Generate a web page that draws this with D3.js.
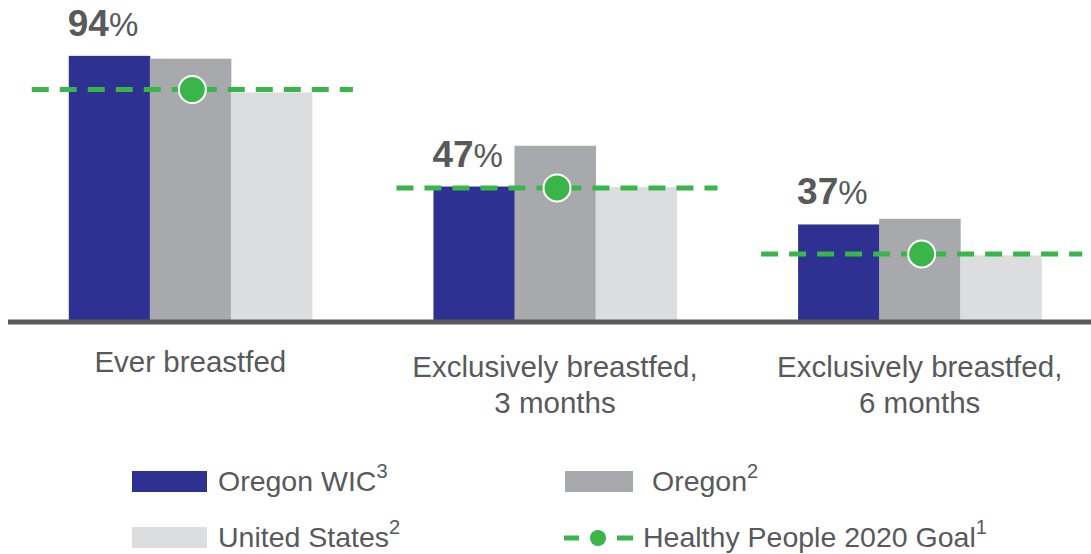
<!DOCTYPE html>
<html>
<head>
<meta charset="utf-8">
<script src="https://cdn.jsdelivr.net/npm/d3@7"></script>
<style>
  body { margin: 0; background: #fff; }
  svg { display: block; font-family: "Liberation Sans", Arial, sans-serif; }
</style>
</head>
<body>
<svg id="chart" width="1091" height="554"></svg>
<script>
// data
var categories = [["Ever breastfed"], ["Exclusively breastfed,", "3 months"], ["Exclusively breastfed,", "6 months"]];
var seriesNames = ["Oregon WIC", "Oregon", "United States"];
var oregonWic = [94, 47.5, 34];
var oregon = [93, 62, 36];
var unitedStates = [81, 47.3, 23];
var hpGoal = [82, 47, 23.5];
var wicLabels = ["94", "47", "37"];

var colors = ["#2e3192", "#a8a9ac", "#dcdddf"];
var green = "#39b54a";
var textColor = "#58595b";

var svg = d3.select('#chart');

var x = d3.scaleBand()
    .domain(d3.range(categories.length))
    .range([8, 1102])
    .paddingInner(1 / 3)
    .paddingOuter(1 / 6);

var xs = d3.scaleBand()
    .domain(d3.range(seriesNames.length))
    .range([0, x.bandwidth()]);

var y = d3.scaleLinear().domain([0, 100]).range([320, 39]);

var rows = categories.map(function(c, i) {
    return { i: i, vals: [oregonWic[i], oregon[i], unitedStates[i]] };
});

var groups = svg.selectAll('g.grp')
    .data(rows)
    .enter()
    .append('g')
    .attr('class', 'grp')
    .attr('transform', function(d) { return 'translate(' + x(d.i) + ',0)'; });

groups.selectAll('rect')
    .data(function(d) { return d.vals; })
    .enter()
    .append('rect')
    .attr('x', function(d, j) { return xs(j); })
    .attr('y', function(d) { return y(d); })
    .attr('width', xs.bandwidth() + 0.5)
    .attr('height', function(d) { return y(0) - y(d); })
    .attr('fill', function(d, j) { return colors[j]; });

// baseline
svg.append('line')
    .attr('x1', 8).attr('x2', 1091)
    .attr('y1', 322).attr('y2', 322)
    .attr('stroke', '#5a5a5c')
    .attr('stroke-width', 5);

// healthy people goal lines
groups.append('line')
    .attr('x1', -37)
    .attr('x2', x.bandwidth() + 41)
    .attr('y1', function(d) { return y(hpGoal[d.i]); })
    .attr('y2', function(d) { return y(hpGoal[d.i]); })
    .attr('stroke', green)
    .attr('stroke-width', 5)
    .attr('stroke-dasharray', '17 11');

groups.append('circle')
    .attr('cx', x.bandwidth() / 2 + 2)
    .attr('cy', function(d) { return y(hpGoal[d.i]); })
    .attr('r', 13.5)
    .attr('fill', green)
    .attr('stroke', '#fff')
    .attr('stroke-width', 2);

// value labels over the WIC bars
var lab = groups.append('text')
    .attr('x', -1)
    .attr('y', function(d) { return y(oregonWic[d.i]) - 20; })
    .attr('fill', textColor)
    .style('font-size', '37px');
lab.append('tspan').attr('font-weight', 'bold').text(function(d) { return wicLabels[d.i]; });
lab.append('tspan').style('font-size', '33px').text('%');

// category labels
groups.append('text')
    .attr('text-anchor', 'middle')
    .attr('fill', textColor)
    .style('font-size', '29.5px')
    .each(function(d) {
        var t = d3.select(this);
        categories[d.i].forEach(function(line, k) {
            t.append('tspan')
                .attr('x', x.bandwidth() / 2)
                .attr('y', (categories[d.i].length > 1 ? 377 : 372) + k * 36)
                .text(line);
        });
    });

// legend
var legend = [
    { name: "Oregon WIC", sup: "3", type: 'box', color: colors[0], x: 132, y: 471 },
    { name: "Oregon", sup: "2", type: 'box', color: colors[1], x: 565, y: 471 },
    { name: "United States", sup: "2", type: 'box', color: colors[2], x: 132, y: 527 },
    { name: "Healthy People 2020 Goal", sup: "1", type: 'goal', color: green, x: 564, y: 527 }
];

var lg = svg.selectAll('g.leg')
    .data(legend)
    .enter()
    .append('g')
    .attr('class', 'leg')
    .attr('transform', function(d) { return 'translate(' + d.x + ',' + d.y + ')'; });

lg.each(function(d) {
    var g = d3.select(this);
    var tx;
    if (d.type === 'box') {
        var w = d.name === "Oregon" ? 68 : 75;
        g.append('rect').attr('width', w).attr('height', 21).attr('fill', d.color);
        tx = d.name === "Oregon" ? 87 : 86;
    } else {
        g.append('line').attr('x1', 0).attr('x2', 15).attr('y1', 11).attr('y2', 11)
            .attr('stroke', green).attr('stroke-width', 5);
        g.append('circle').attr('cx', 34).attr('cy', 11).attr('r', 8).attr('fill', green);
        g.append('line').attr('x1', 53).attr('x2', 69).attr('y1', 11).attr('y2', 11)
            .attr('stroke', green).attr('stroke-width', 5);
        tx = 79;
    }
    var t = g.append('text')
        .attr('x', tx)
        .attr('y', 20)
        .attr('fill', textColor)
        .style('font-size', '28.5px');
    t.append('tspan').text(d.name);
    t.append('tspan').attr('dy', -13).style('font-size', '20px').text(d.sup);
});
</script>
</body>
</html>
